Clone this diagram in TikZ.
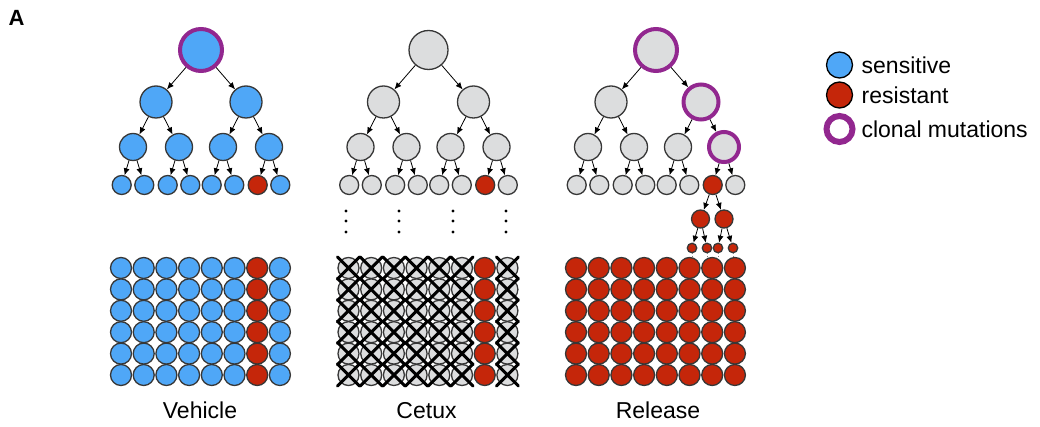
\documentclass[tikz,border=0pt]{standalone}
\usepackage{fontspec}
\setmainfont{Liberation Sans}
\usetikzlibrary{arrows.meta, positioning}
\definecolor{sensblue}{RGB}{79,167,247}
\definecolor{resred}{RGB}{197,38,10}
\definecolor{cellgray}{RGB}{220,221,222}
\definecolor{clonepurple}{RGB}{146,39,143}
\definecolor{rimgray}{RGB}{55,55,55}

\begin{document}
\begin{tikzpicture}[
        x=1pt, y=-1pt,
        every node/.style={font=\fontsize{23}{27}\selectfont},
        cell/.style={circle, draw=rimgray, line width=1.3pt, inner sep=0pt},
        lvone/.style={cell, minimum size=39pt},
        lvtwo/.style={cell, minimum size=32pt},
        lvthree/.style={cell, minimum size=27pt},
        lvfour/.style={cell, minimum size=19pt},
        lvfive/.style={cell, minimum size=18pt},
        lvsix/.style={cell, minimum size=9.5pt},
        dish/.style={cell, minimum size=21pt},
        clonal/.style={draw=clonepurple, line width=4pt},
        arrow/.style={-{Latex[length=7pt, width=6pt]}, line width=0.8pt},
        kill/.style={line width=3pt, line cap=round},
        seed/.style={dotted, line width=0.6pt, gray},
        % cells that carry a mark
        mk-r0/.style={clonal, minimum size=42pt},
        mk-r2/.style={clonal, minimum size=42pt},
        mk-a22/.style={clonal, minimum size=35pt},
        mk-b24/.style={clonal, minimum size=30pt},
        mk-c07/.style={fill=resred},
        mk-c17/.style={fill=resred},
        mk-c27/.style={fill=resred}
    ]
        \useasboundingbox (0,0) rectangle (1040,427);

        \node[anchor=base west, inner sep=0pt, font=\fontsize{22}{26}\selectfont\bfseries] (panel) at (8.5,26) {A};

        % Trees
        \foreach \p/\ox/\col in {0/0/sensblue, 1/227.5/cellgray, 2/455/cellgray} {
            \node[lvone, fill=\col, mk-r\p/.try] (r\p) at (201+\ox,50) {};
            \foreach \i in {1,2} {
                \pgfmathsetmacro\ax{201+\ox+(2*\i-3)*45}
                \node[lvtwo, fill=\col, mk-a\p\i/.try] (a\p\i) at (\ax,102) {};
                \draw[arrow] (r\p) -- (a\p\i);
                \foreach \h in {1,2} {
                    \pgfmathtruncatemacro\k{2*\i-2+\h}
                    \pgfmathsetmacro\bx{\ax+(2*\h-3)*23}
                    \node[lvthree, fill=\col, mk-b\p\k/.try] (b\p\k) at (\bx,147) {};
                    \draw[arrow] (a\p\i) -- (b\p\k);
                    \foreach \m in {1,2} {
                        \pgfmathtruncatemacro\j{2*\k-2+\m}
                        \node[lvfour, fill=\col, mk-c\p\j/.try] (c\p\j) at ({\bx+(2*\m-3)*11.3},185) {};
                        \draw[arrow] (b\p\k) -- (c\p\j);
                    }
                }
            }
        }

        % Escaping lineage
        \node[lvfive, fill=resred] (d1) at (700.5,219) {};
        \node[lvfive, fill=resred] (d2) at (724,219) {};
        \draw[arrow] (c27) -- (d1);
        \draw[arrow] (c27) -- (d2);
        \coordinate (gtop) at (0,258);
        \foreach \n/\x/\up in {1/692/d1, 2/707/d1, 3/718/d2, 4/733/d2} {
            \node[lvsix, fill=resred] (e\n) at (\x,248) {};
            \draw[arrow] (\up) -- (e\n);
            \draw[seed] (e\n) -- (e\n |- gtop);
        }

        % Gap in time
        \foreach \x in {346,399,453,506}
            \foreach \y in {211,221,232}
                \fill (\x,\y) circle[radius=1.6];

        % Dishes
        \foreach \p/\ox/\col in {0/0/sensblue, 1/227.5/cellgray, 2/455/resred} {
            \foreach \row in {1,...,6}
                \foreach \cl in {1,...,8}
                    \node[dish, fill=\col, mk-c\p\cl/.try] (g\p-\row-\cl) at ({121+22.7*(\cl-1)+\ox},{268+21.4*(\row-1)}) {};
        }
        \foreach \row in {1,...,6}
            \foreach \cl in {1,2,3,4,5,6,8}
                \draw[kill] (g1-\row-\cl.center) +(-11,-11) -- +(11,11) +(-11,11) -- +(11,-11);

        % Labels
        \node[anchor=base] (vehicle) at (200,418) {Vehicle};
        \node[anchor=base] (cetux) at (426.5,418) {Cetux};
        \node[anchor=base] (release) at (658,418) {Release};

        % Legend
        \node[cell, minimum size=26pt, fill=sensblue, draw=black] (lsens) at (839.5,65) {};
        \node[cell, minimum size=26pt, fill=resred, draw=black] (lres) at (839.5,95) {};
        \node[circle, draw=clonepurple, line width=6pt, minimum size=26pt, inner sep=0pt] (lclone) at (839.5,129) {};
        \node[right=5pt of lsens] (tsens) {sensitive};
        \node[right=5pt of lres] (tres) {resistant};
        \node[right=2.5pt of lclone] (tclone) {clonal mutations};
    \end{tikzpicture}
\end{document}
